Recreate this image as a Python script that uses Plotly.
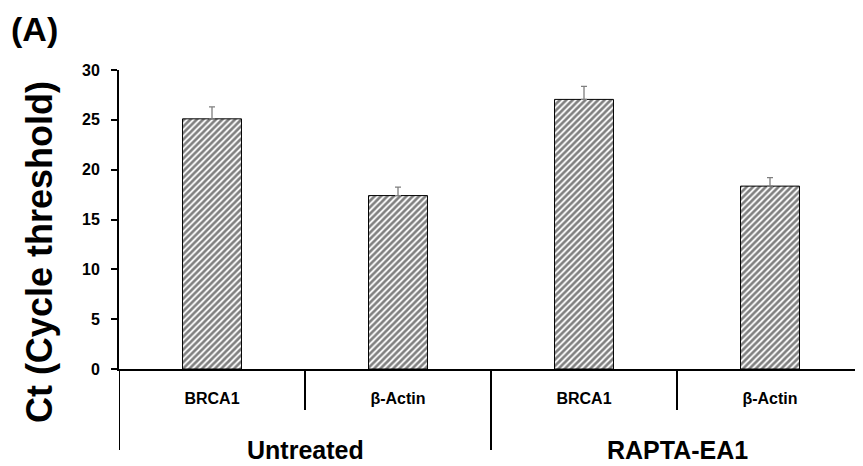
import plotly.graph_objects as go

# ---- data ----
genes = ["BRCA1", "β-Actin", "BRCA1", "β-Actin"]
groups = ["Untreated", "RAPTA-EA1"]
ct_values = [25.1, 17.4, 27.05, 18.35]
ct_errors = [1.2, 0.85, 1.3, 0.85]
y_ticks = [0, 5, 10, 15, 20, 25, 30]

FONT = "Liberation Sans, Arial, sans-serif"
x_pos = list(range(len(genes)))

fig = go.Figure()
fig.add_trace(go.Bar(
    x=x_pos,
    y=ct_values,
    width=0.317,
    marker=dict(
        color="white",
        line=dict(color="black", width=1),
        pattern=dict(shape="/", fgcolor="black", bgcolor="white", size=4.5, solidity=0.6),
    ),
    error_y=dict(
        type="data", symmetric=False, array=ct_errors,
        arrayminus=[0] * len(ct_errors),
        color="#7f7f7f", thickness=1.3, width=3,
    ),
    showlegend=False,
))

n = len(genes)
per_group = n // len(groups)

# divider lines below axis
shapes = []
for b in range(n + 1):
    xb = b - 0.5
    long_line = (b % per_group == 0)
    shapes.append(dict(
        type="line", xref="x", yref="paper",
        x0=xb, x1=xb, y0=0, y1=(-0.271 if long_line else -0.137),
        line=dict(color="black", width=2),
    ))

annotations = []
for gi, g in enumerate(groups):
    xc = gi * per_group + (per_group - 1) / 2
    annotations.append(dict(
        x=xc, y=-0.272, xref="x", yref="paper", text=f"<b>{g}</b>",
        showarrow=False, xanchor="center", yanchor="middle",
        font=dict(family=FONT, size=25, color="black"),
    ))
annotations.append(dict(
    x=-0.1075, y=0.391, xref="paper", yref="paper",
    text="<b>Ct (Cycle threshold)</b>", textangle=-90, showarrow=False,
    xanchor="center", yanchor="middle",
    font=dict(family=FONT, size=36, color="black"),
))
annotations.append(dict(
    x=-0.113, y=1.138, xref="paper", yref="paper",
    text="<b>(A)</b>", showarrow=False, xanchor="center", yanchor="middle",
    font=dict(family=FONT, size=34, color="black"),
))

# the page body adds an 8px offset, so the figure is 8px smaller
fig.update_layout(
    width=855, height=458,
    margin=dict(l=111, r=0, t=62, b=97),
    paper_bgcolor="white", plot_bgcolor="white",
    shapes=shapes,
    annotations=annotations,
    xaxis=dict(
        range=[-0.5, n - 0.5],
        tickvals=x_pos, ticktext=[f"<b>{g}</b>" for g in genes],
        tickfont=dict(family=FONT, size=16, color="black"),
        ticks="", showgrid=False, zeroline=False,
        showline=True, linecolor="black", linewidth=2,
        ticklabelstandoff=14,
    ),
    yaxis=dict(
        range=[0, 30], tickvals=y_ticks,
        ticktext=[f"<b>{t}</b>" for t in y_ticks],
        tickfont=dict(family=FONT, size=16, color="black"),
        ticks="outside", ticklen=6, tickwidth=1.5, tickcolor="black",
        showgrid=False, zeroline=False,
        showline=True, linecolor="black", linewidth=2,
        ticklabelstandoff=8,
    ),
)

fig.write_html("out.html")
